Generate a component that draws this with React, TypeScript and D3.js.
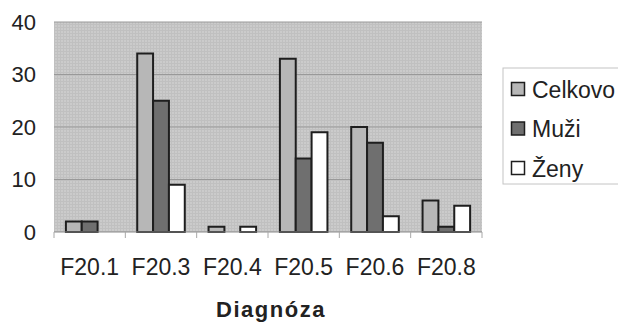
import React from "react";
import * as d3 from "d3";

const categories = ["F20.1", "F20.3", "F20.4", "F20.5", "F20.6", "F20.8"];
const seriesNames = ["Celkovo", "Muži", "Ženy"];
const celkovo = [2, 34, 1, 33, 20, 6];
const muzi = [2, 25, 0, 14, 17, 1];
const zeny = [0, 9, 1, 19, 3, 5];
const yTicks = [0, 10, 20, 30, 40];
const axisTitle = "Diagnóza";

const seriesValues = [celkovo, muzi, zeny];
const seriesFill = ["#b7b7b7", "#6f6f6f", "#ffffff"];

const W = 618;
const H = 322;
const plot = { left: 54, right: 482, top: 22, bottom: 232 };
const FONT = "'Liberation Sans', Arial, sans-serif";

export default function App() {
  const x0 = d3
    .scaleBand<string>()
    .domain(categories)
    .range([plot.left, plot.right])
    .paddingInner(0)
    .paddingOuter(0);
  const x1 = d3
    .scaleBand<string>()
    .domain(seriesNames)
    .range([0, x0.bandwidth()])
    .paddingInner(0)
    .paddingOuter(0.75);
  const y = d3.scaleLinear().domain([0, 40]).range([plot.bottom, plot.top]);

  const boundaries = categories.map((c) => x0(c)!).concat([plot.right]);

  return (
    <svg
      width={W}
      height={H}
      style={{ position: "absolute", left: 0, top: 0, background: "#ffffff" }}
      fontFamily={FONT}
    >
      <defs>
        <pattern id="mesh" width="3" height="3" patternUnits="userSpaceOnUse">
          <rect width="3" height="3" fill="#cbcbcb" />
          <rect width="3" height="1" fill="#c0c0c0" />
          <rect width="1" height="3" fill="#c0c0c0" />
        </pattern>
      </defs>

      {/* plot area */}
      <rect
        x={plot.left}
        y={plot.top}
        width={plot.right - plot.left}
        height={plot.bottom - plot.top}
        fill="url(#mesh)"
      />

      {/* horizontal gridlines */}
      {yTicks
        .filter((t) => t > 0)
        .map((t) => (
          <line
            key={"g" + t}
            x1={plot.left}
            x2={plot.right}
            y1={y(t)}
            y2={y(t)}
            stroke="#999999"
            strokeWidth={1}
          />
        ))}

      {/* bars */}
      {categories.map((c, ci) =>
        seriesNames.map((s, si) => {
          const v = seriesValues[si][ci];
          if (v <= 0) return null;
          return (
            <rect
              key={c + s}
              x={x0(c)! + x1(s)!}
              y={y(v)}
              width={x1.bandwidth()}
              height={y(0) - y(v)}
              fill={seriesFill[si]}
              stroke="#1e1e1e"
              strokeWidth={2}
            />
          );
        })
      )}

      {/* category axis */}
      <line
        x1={plot.left}
        x2={plot.right}
        y1={y(0)}
        y2={y(0)}
        stroke="#8a8a8a"
        strokeWidth={1}
      />
      {boundaries.map((bx, i) => (
        <line
          key={"t" + i}
          x1={bx}
          x2={bx}
          y1={y(0)}
          y2={y(0) + 6}
          stroke="#a8a8a8"
          strokeWidth={1}
        />
      ))}

      {/* value labels */}
      {yTicks.map((t) => (
        <text
          key={"y" + t}
          x={36}
          y={y(t)}
          dy="0.36em"
          textAnchor="end"
          fontSize={22}
          fill="#222222"
        >
          {t}
        </text>
      ))}

      {/* category labels */}
      {categories.map((c) => (
        <text
          key={"c" + c}
          x={x0(c)! + x0.bandwidth() / 2}
          y={275}
          textAnchor="middle"
          fontSize={23}
          fill="#222222"
        >
          {c}
        </text>
      ))}

      <text
        x={271}
        y={317}
        textAnchor="middle"
        fontSize={22}
        fontWeight="bold"
        letterSpacing={1.5}
        fill="#222222"
      >
        {axisTitle}
      </text>

      {/* legend */}
      <rect x={503} y={68} width={130} height={116} fill="#ffffff" stroke="#c4c4c4" strokeWidth={1} />
      {seriesNames.map((s, i) => {
        const cy = 89 + i * 39.5;
        return (
          <g key={"l" + s}>
            <rect
              x={511.5}
              y={cy - 6.5}
              width={13}
              height={13}
              fill={seriesFill[i]}
              stroke="#1e1e1e"
              strokeWidth={1.5}
            />
            <text x={532} y={cy + 8.5} fontSize={23} fill="#222222">
              {s}
            </text>
          </g>
        );
      })}
    </svg>
  );
}
